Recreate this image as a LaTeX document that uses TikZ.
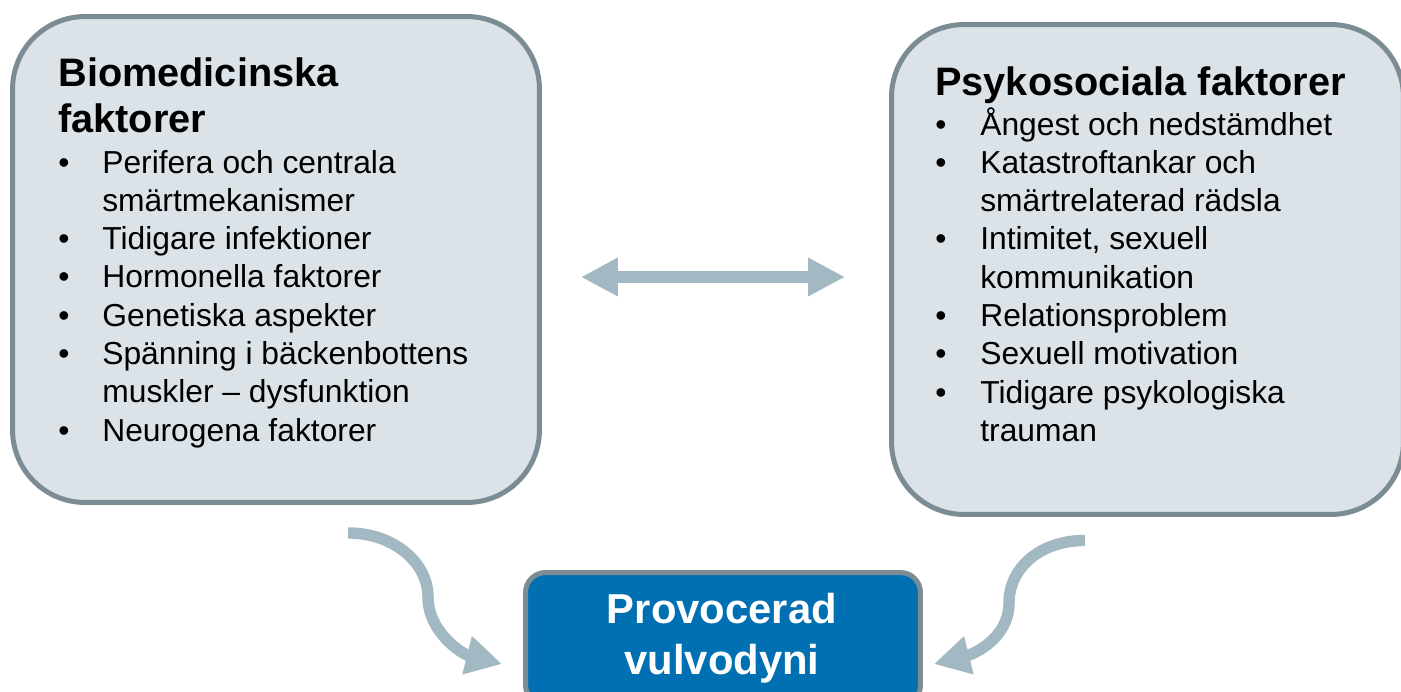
\documentclass[tikz,border=0pt]{standalone}
\usepackage{fontspec}
\setmainfont{Liberation Sans}
\usetikzlibrary{arrows.meta}
\definecolor{boxgray}{RGB}{220,227,232}
\definecolor{edgegray}{RGB}{123,140,149}
\definecolor{arrowgray}{RGB}{162,184,195}
\definecolor{pvblue}{RGB}{0,112,178}

\begin{document}
\begin{tikzpicture}[x=0.02cm, y=0.02cm,
    factorbox/.style={draw=edgegray, fill=boxgray, line width=0.1cm,
        rounded corners=1.45cm, inner sep=0pt},
    resultbox/.style={draw=edgegray, fill=pvblue, line width=0.1cm,
        rounded corners=0.4cm, inner sep=0pt,
        minimum width=7.9cm, minimum height=2.65cm},
    heading/.style={anchor=base west, inner sep=0pt,
        font=\fontsize{22.6}{26.6}\selectfont\bfseries},
    itemlist/.style={anchor=base west, inner sep=0pt,
        font=\fontsize{18.1}{21.8}\selectfont},
    grayarrow/.style={draw=arrowgray, line width=6.5pt,
        -{Triangle[length=20.5pt, width=21pt]}},
    ]

\useasboundingbox (0,0) rectangle (1401,-691);
\clip (0,0) rectangle (1401,-691);

\node[factorbox, minimum width=10.54cm, minimum height=9.72cm] (bio) at (276,-259.5) {};
\node[factorbox, minimum width=10.24cm, minimum height=9.8cm] (psy) at (1147.5,-269.5) {};
\node[resultbox] (pv) at (723,-638.75) {};

\node[heading] (biohead) at (58,-86)
  {\begin{tabular}[t]{@{}l@{}}Biomedicinska\\faktorer\end{tabular}};
\node[itemlist] (biolist) at (58,-173) {\begin{tabular}[t]{@{}p{0.88cm}@{}l@{}}
  \textbullet & Perifera och centrala\\
              & smärtmekanismer\\
  \textbullet & Tidigare infektioner\\
  \textbullet & Hormonella faktorer\\
  \textbullet & Genetiska aspekter\\
  \textbullet & Spänning i bäckenbottens\\
              & muskler – dysfunktion\\
  \textbullet & Neurogena faktorer
  \end{tabular}};

\node[heading] (psyhead) at (935,-95) {Psykosociala faktorer};
\node[itemlist] (psylist) at (935,-135) {\begin{tabular}[t]{@{}p{0.9cm}@{}l@{}}
  \textbullet & Ångest och nedstämdhet\\
  \textbullet & Katastroftankar och\\
              & smärtrelaterad rädsla\\
  \textbullet & Intimitet, sexuell\\
              & kommunikation\\
  \textbullet & Relationsproblem\\
  \textbullet & Sexuell motivation\\
  \textbullet & Tidigare psykologiska\\
              & trauman
  \end{tabular}};

\node[anchor=base, inner sep=0pt, text=white,
      font=\fontsize{23.8}{29.5}\selectfont\bfseries] (pvtext) at (722,-623)
  {\begin{tabular}[t]{@{}c@{}}Provocerad\\vulvodyni\end{tabular}};

\draw[grayarrow, {Triangle[length=21pt, width=20.5pt]}-{Triangle[length=21pt, width=20.5pt]}]
  ([shift={(39,-17.5)}]bio.east) -- ([shift={(-44,-7.5)}]psy.west);

\draw[grayarrow] ([shift={(72,-28)}]bio.south)
  .. controls +(45,0) and +(0,35) .. (428,-597)
  .. controls +(0,-35) and +(-40,10) .. ([shift={(-21,-25.25)}]pv.west);
\draw[grayarrow] ([shift={(-62.5,-23.5)}]psy.south)
  .. controls +(-45,0) and +(0,35) .. (1009,-603)
  .. controls +(0,-35) and +(40,10) .. ([shift={(11,-25.25)}]pv.east);
\end{tikzpicture}
\end{document}
